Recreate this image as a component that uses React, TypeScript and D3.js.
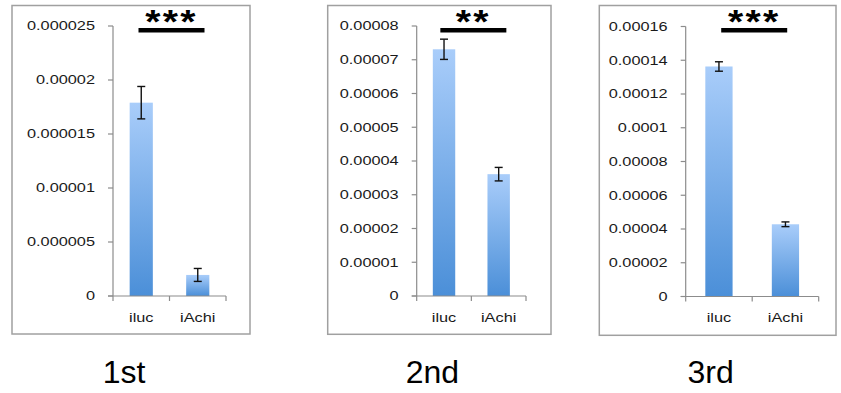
import React from "react";
import * as d3 from "d3";

const categories = ["iluc", "iAchi"];
const panelTitles = ["1st", "2nd", "3rd"];
const ilucMeans = [0.0000179, 0.0000731, 0.0001363];
const ilucErrors = [0.0000015, 0.000003, 0.0000028];
const iachiMeans = [0.00000195, 0.0000361, 0.0000428];
const iachiErrors = [0.0000006, 0.000002, 0.0000014];
const yMaxes = [0.000025, 0.00008, 0.00016];
const tickLabels1 = ["0", "0.000005", "0.00001", "0.000015", "0.00002", "0.000025"];
const tickLabels2 = ["0", "0.00001", "0.00002", "0.00003", "0.00004", "0.00005", "0.00006", "0.00007", "0.00008"];
const tickLabels3 = ["0", "0.00002", "0.00004", "0.00006", "0.00008", "0.0001", "0.00012", "0.00014", "0.00016"];
const tickLabelSets = [tickLabels1, tickLabels2, tickLabels3];
const significance = ["***", "**", "***"];

const W = 841;
const H = 393;
const SX = 1.36;

const layouts = [
  { box: [12, 5.5, 250, 334], ax: [113, 226], ay: [26, 296] },
  { box: [327.7, 5.5, 551, 334.3], ax: [416.7, 526], ay: [26, 296] },
  { box: [599.3, 5.5, 836, 335.3], ax: [685.7, 818.7], ay: [26.5, 296.5] },
];

const axisColor = "#8c8c8c";
const boxColor = "#a0a0a0";
const fontTick = "'Liberation Sans', Arial, sans-serif";

function Panel({ i }: { i: number }) {
  const L = layouts[i];
  const y = d3.scaleLinear().domain([0, yMaxes[i]]).range([L.ay[1], L.ay[0]]);
  const x = d3.scaleBand().domain(categories).range([L.ax[0], L.ax[1]]).paddingInner(0).paddingOuter(0);
  const bw = x.bandwidth() * 0.41;
  const means = [ilucMeans[i], iachiMeans[i]];
  const errs = [ilucErrors[i], iachiErrors[i]];
  const labels = tickLabelSets[i];
  const ticks = labels.map((_, k) => (yMaxes[i] * k) / (labels.length - 1));
  const c1 = (x(categories[0]) as number) + x.bandwidth() / 2;
  const c2 = (x(categories[1]) as number) + x.bandwidth() / 2;
  const mid = (c1 + c2) / 2 + 2;
  const gid = `grad${i}`;
  return (
    <g>
      <defs>
        <linearGradient id={gid} x1="0" y1="0" x2="0" y2="1">
          <stop offset="0%" stopColor="#a9cdfa" />
          <stop offset="100%" stopColor="#4b8fd8" />
        </linearGradient>
      </defs>
      <rect x={L.box[0]} y={L.box[1]} width={L.box[2] - L.box[0]} height={L.box[3] - L.box[1]} fill="#fff" stroke={boxColor} strokeWidth={1.5} />
      {means.map((m, k) => {
        const cx = (x(categories[k]) as number) + x.bandwidth() / 2;
        return (
          <rect key={k} x={cx - bw / 2} y={y(m)} width={bw} height={y(0) - y(m)} fill={`url(#${gid})`} />
        );
      })}
      {means.map((m, k) => {
        const cx = (x(categories[k]) as number) + x.bandwidth() / 2;
        const t = y(m + errs[k]);
        const b = y(m - errs[k]);
        return (
          <g key={k} stroke="#111" strokeWidth={1.4}>
            <line x1={cx} x2={cx} y1={t} y2={b} />
            <line x1={cx - 4} x2={cx + 4} y1={t} y2={t} />
            <line x1={cx - 4} x2={cx + 4} y1={b} y2={b} />
          </g>
        );
      })}
      <line x1={L.ax[0]} x2={L.ax[0]} y1={L.ay[0]} y2={L.ay[1]} stroke={axisColor} strokeWidth={1.2} />
      <line x1={L.ax[0] - 5} x2={L.ax[1]} y1={L.ay[1]} y2={L.ay[1]} stroke={axisColor} strokeWidth={1.2} />
      {ticks.map((t, k) => (
        <g key={k}>
          <line x1={L.ax[0] - 5} x2={L.ax[0]} y1={y(t)} y2={y(t)} stroke={axisColor} strokeWidth={1.2} />
          <text
            transform={`translate(${L.ax[0] - 18},${y(t) + 4.3}) scale(${SX},1)`}
            textAnchor="end"
            fontFamily={fontTick}
            fontSize={12}
            fill="#1a1a1a"
          >
            {labels[k]}
          </text>
        </g>
      ))}
      {[L.ax[0], (L.ax[0] + L.ax[1]) / 2, L.ax[1]].map((tx, k) => (
        <line key={k} x1={tx} x2={tx} y1={L.ay[1]} y2={L.ay[1] + 5} stroke={axisColor} strokeWidth={1.2} />
      ))}
      {categories.map((c, k) => {
        const cx = (x(c) as number) + x.bandwidth() / 2;
        return (
          <text
            key={c}
            transform={`translate(${cx},${L.ay[1] + 25.5}) scale(${SX},1)`}
            textAnchor="middle"
            fontFamily={fontTick}
            fontSize={12}
            fill="#1a1a1a"
          >
            {c}
          </text>
        );
      })}
      <line x1={mid - 33} x2={mid + 33} y1={30.3} y2={30.3} stroke="#000" strokeWidth={4.5} />
      <text
        transform={`translate(${mid},${33}) scale(1.15,1)`}
        textAnchor="middle"
        fontFamily={fontTick}
        fontWeight="bold"
        fontSize={34}
        letterSpacing={2}
        fill="#000"
      >
        {significance[i]}
      </text>
      <text
        x={(L.box[0] + L.box[2]) / 2 - 7}
        y={383.3}
        textAnchor="middle"
        fontFamily={fontTick}
        fontSize={32}
        fill="#000"
      >
        {panelTitles[i]}
      </text>
    </g>
  );
}

export default function App() {
  return (
    <svg width={W} height={H} style={{ position: "absolute", left: 0, top: 0, background: "#fff" }}>
      <rect x={0} y={0} width={W} height={H} fill="#fff" />
      {[0, 1, 2].map((i) => (
        <Panel key={i} i={i} />
      ))}
    </svg>
  );
}
